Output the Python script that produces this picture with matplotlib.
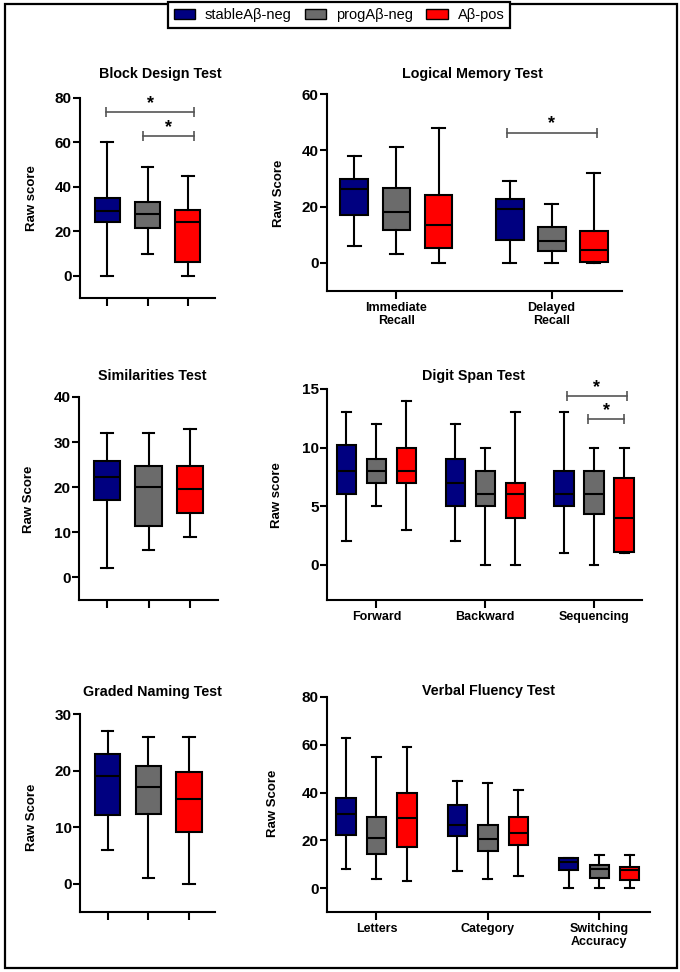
import matplotlib
matplotlib.use("Agg")
import matplotlib.pyplot as plt
from matplotlib.patches import Patch, Rectangle

plt.rcParams['font.family'] = ['Liberation Sans', 'DejaVu Sans']

W, H = 680, 972

group_names = ["stableAβ-neg", "progAβ-neg", "Aβ-pos"]
group_colors = ["#000080", "#6b6b6b", "#ff0000"]

# each box: [whisker low, q1, median, q3, whisker high], order stable / prog / pos
block_design = [[[0, 24.3, 29.2, 35.2, 60], [10, 21.3, 28, 33.1, 49], [0, 6.3, 24, 29.7, 45]]]

logical_labels = ["Immediate\nRecall", "Delayed\nRecall"]
logical_memory = [
    [[6, 17.1, 26.3, 29.8, 38], [3, 11.6, 18, 26.5, 41], [0, 5.3, 13.5, 24, 48]],
    [[0, 8.1, 19.1, 22.8, 29], [0, 4.2, 7.6, 12.6, 21], [0, 0.2, 4.5, 11.4, 32]],
]

similarities = [[[2, 17.1, 22.2, 25.9, 32], [6, 11.5, 20, 24.8, 32], [9, 14.3, 19.5, 24.8, 33]]]

digit_labels = ["Forward", "Backward", "Sequencing"]
digit_span = [
    [[2, 6, 8, 10.2, 13], [5, 7, 8, 9, 12], [3, 7, 8, 9.95, 14]],
    [[2, 5, 7, 9, 12], [0, 5, 6, 8, 10], [0, 4, 6, 6.95, 13]],
    [[1, 5, 6, 8, 13], [0, 4.3, 6, 8, 10], [1, 1.1, 4, 7.45, 10]],
]

graded_naming = [[[6, 12.2, 19, 22.9, 27], [1, 12.4, 17.1, 20.8, 26], [0, 9.15, 14.95, 19.8, 26]]]

fluency_labels = ["Letters", "Category", "Switching\nAccuracy"]
verbal_fluency = [
    [[8, 22.4, 31.2, 37.9, 63], [4, 14.2, 21.1, 29.7, 55], [3, 17.3, 29.2, 39.7, 59]],
    [[7, 21.8, 26.3, 34.8, 45], [4, 15.4, 20.5, 26.5, 44], [5, 17.9, 23.2, 29.7, 41]],
    [[0, 7.4, 10.9, 12.7, 12.7], [0, 4.4, 8.1, 9.6, 14], [0, 3.4, 7.4, 8.7, 14]],
]

LW = 1.5


def px_rect(x0, y0, x1, y1):
    return [x0 / W, 1 - y1 / H, (x1 - x0) / W, (y1 - y0) / H]


def panel(fig, rect, data, d, width, xlim, ylim, ystep, xlabels=None):
    ax = fig.add_axes(rect)
    centers = list(range(len(data)))
    for gi, boxes in enumerate(data):
        for k, (lo, q1, med, q3, hi) in enumerate(boxes):
            stats = [dict(whislo=lo, q1=q1, med=med, q3=q3, whishi=hi, fliers=[])]
            ax.bxp(stats, positions=[centers[gi] + (k - 1) * d], widths=width,
                   capwidths=width * 0.45, patch_artist=True, showfliers=False,
                   manage_ticks=False,
                   boxprops=dict(facecolor=group_colors[k], edgecolor='black', linewidth=LW),
                   medianprops=dict(color='black', linewidth=LW),
                   whiskerprops=dict(color='black', linewidth=LW),
                   capprops=dict(color='black', linewidth=LW))
    ax.set_xlim(*xlim)
    ax.set_ylim(*ylim)
    ax.set_yticks(range(0, ylim[1] + 1, ystep))
    if xlabels is None:
        ax.set_xticks([c + (k - 1) * d for c in centers for k in range(3)])
        ax.set_xticklabels([])
    else:
        ax.set_xticks(centers)
        ax.set_xticklabels(xlabels, fontsize=9, fontweight='bold', linespacing=1.1)
    for s in ['top', 'right']:
        ax.spines[s].set_visible(False)
    for s in ['left', 'bottom']:
        ax.spines[s].set_linewidth(LW)
    ax.tick_params(axis='y', length=5, width=LW, pad=1, labelsize=11)
    ax.tick_params(axis='x', length=6, width=LW, pad=2)
    for t in ax.get_yticklabels():
        t.set_fontweight('bold')
    return ax


def sig(ax, x0, x1, y):
    ax.plot([x0, x1], [y, y], color='#555555', lw=1.2, marker='|', markersize=7,
            mew=1.2, clip_on=False)
    ax.annotate('*', xy=((x0 + x1) / 2, y), xytext=(0, 0), textcoords='offset points',
                ha='center', va='bottom', fontsize=13, fontweight='bold')


fig = plt.figure(figsize=(W / 100, H / 100), dpi=100)

ax1 = panel(fig, px_rect(80, 98, 215, 298), block_design, 1, 0.62, (-1.67, 1.67), (-10, 80), 20)
sig(ax1, -1.02, 1.15, 73.6)
sig(ax1, -0.11, 1.15, 63)

ax2 = panel(fig, px_rect(327, 94, 622, 291), logical_memory, 0.271, 0.18, (-0.448, 1.454), (-10, 60), 20,
            logical_labels)
sig(ax2, 0.712, 1.292, 46.3)

ax3 = panel(fig, px_rect(79, 397, 218, 600), similarities, 1, 0.64, (-1.67, 1.67), (-5, 40), 10)

ax4 = panel(fig, px_rect(327, 389, 642, 600), digit_span, 0.276, 0.178, (-0.454, 2.44), (-3, 15), 5,
            digit_labels)
sig(ax4, 1.748, 2.305, 14.43)
sig(ax4, 1.947, 2.278, 12.45)

ax5 = panel(fig, px_rect(80, 714, 215, 912), graded_naming, 1, 0.62, (-1.68, 1.64), (-5, 30), 10)

ax6 = panel(fig, px_rect(327, 697, 650, 912), verbal_fluency, 0.274, 0.174, (-0.444, 2.456), (-10, 80), 20,
            fluency_labels)

titles = [("Block Design Test", 160, 74), ("Logical Memory Test", 472, 74),
          ("Similarities Test", 152, 376), ("Digit Span Test", 473, 376),
          ("Graded Naming Test", 152, 692), ("Verbal Fluency Test", 488, 691)]
for txt, x, y in titles:
    fig.text(x / W, 1 - y / H, txt, ha='center', va='center', fontsize=10.3, fontweight='bold')

ylabels = [("Raw score", 32, 198), ("Raw Score", 279, 193), ("Raw Score", 29, 499),
           ("Raw score", 277, 495), ("Raw Score", 32, 817), ("Raw Score", 273, 803)]
for txt, x, y in ylabels:
    fig.text(x / W, 1 - y / H, txt, ha='center', va='center', rotation=90,
             fontsize=9.5, fontweight='bold')

fig.patches.append(Rectangle((5 / W, 1 - 968 / H), 672 / W, 964 / H, fill=False,
                             lw=1.6, edgecolor='black', transform=fig.transFigure))

handles = [Patch(facecolor=c, edgecolor='black', linewidth=1) for c in group_colors]
leg = fig.legend(handles, group_names, loc='upper center', bbox_to_anchor=(339 / W, 1 - 2 / H),
                 ncol=3, fontsize=10.5, frameon=True, fancybox=False, framealpha=1,
                 edgecolor='black', handlelength=1.45, handleheight=0.7, handletextpad=0.7,
                 columnspacing=0.9, borderpad=0.4, borderaxespad=0)
leg.get_frame().set_linewidth(1.6)

fig.savefig("out.png", dpi=100)
